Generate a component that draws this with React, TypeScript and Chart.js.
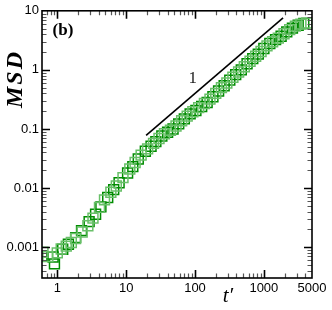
import { useEffect, useRef } from 'react';
import { Chart, registerables } from 'chart.js';

Chart.register(...registerables);

// ---- data ----
const darkT = [0.6, 0.87, 0.91, 1.2, 1.45, 1.85, 2.25, 2.9, 3.6, 4.3, 5.4, 6.6, 7.9, 10.5, 12.5, 15, 19, 23, 27, 33, 40, 48, 58, 70, 85, 103, 125, 150, 182, 220, 265, 320, 390, 470, 570, 690, 830, 1000, 1220, 1480, 1780, 2150, 2600, 3150, 3800];
const darkMSD = [0.00071, 0.00068, 0.00052, 0.00092, 0.00112, 0.00145, 0.0019, 0.0027, 0.0036, 0.0048, 0.0069, 0.0094, 0.0123, 0.018, 0.023, 0.031, 0.042, 0.051, 0.061, 0.076, 0.088, 0.1, 0.122, 0.148, 0.18, 0.205, 0.24, 0.28, 0.35, 0.44, 0.54, 0.67, 0.83, 1.0, 1.27, 1.55, 1.85, 2.3, 2.8, 3.25, 3.7, 4.4, 5.1, 5.7, 6.1];

const lightT = [0.62, 0.73, 1.0, 1.14, 1.35, 1.6, 1.84, 2.3, 2.78, 3.3, 4.1, 4.85, 6.0, 7.2, 9.0, 11.3, 13.5, 16.5, 20.5, 25, 30, 36, 44, 53, 64, 77, 93, 113, 137, 165, 200, 242, 290, 355, 430, 520, 630, 760, 910, 1110, 1340, 1620, 1960, 2370, 2870, 3450, 4200];
const lightMSD = [0.00082, 0.00069, 0.0008, 0.00093, 0.00104, 0.0012, 0.0014, 0.0018, 0.0023, 0.0031, 0.0047, 0.0063, 0.0085, 0.0108, 0.015, 0.021, 0.027, 0.036, 0.046, 0.057, 0.069, 0.083, 0.095, 0.112, 0.138, 0.165, 0.195, 0.23, 0.27, 0.32, 0.4, 0.5, 0.6, 0.75, 0.92, 1.13, 1.4, 1.7, 2.05, 2.55, 3.0, 3.45, 4.1, 4.8, 5.5, 5.95, 6.2];

const slopeT = [19.5, 1900];
const slopeMSD = [0.078, 7.6];
const slopeLabelPos = [93, 0.71];

const xTickValues = [1, 10, 100, 1000, 5000];
const yTickValues = [0.001, 0.01, 0.1, 1, 10];
const xRange = [0.606, 5000];
const yRange = [0.000316, 10];

const xTitle = 't\u2032';
const yTitle = 'MSD';
const panelLabel = '(b)';
const slopeText = '1';

const toPoints = (xs: number[], ys: number[]) => xs.map((x, i) => ({ x, y: ys[i] }));

const framePlugin = {
  id: 'frameAndText',
  afterDatasetsDraw(chart: any) {
    const { ctx, chartArea: a, scales } = chart;
    const xs = scales.x;
    const ys = scales.y;
    ctx.save();
    const drawTicks = (scale: any, horizontal: boolean) => {
      const lo = Math.floor(Math.log10(scale.min));
      const hi = Math.ceil(Math.log10(scale.max));
      for (let d = lo; d <= hi; d++) {
        for (let k = 1; k <= 9; k++) {
          const v = k * Math.pow(10, d);
          if (v <= scale.min * 1.0001 || v >= scale.max * 0.9999) continue;
          const p = Math.round(scale.getPixelForValue(v)) + 0.5;
          const major = k === 1;
          const len = major ? 8 : 4.5;
          ctx.lineWidth = major ? 1.6 : 1.2;
          ctx.strokeStyle = major ? '#000' : '#555';
          ctx.beginPath();
          if (horizontal) {
            ctx.moveTo(p, a.bottom);
            ctx.lineTo(p, a.bottom - len);
            ctx.moveTo(p, a.top);
            ctx.lineTo(p, a.top + len);
          } else {
            ctx.moveTo(a.left, p);
            ctx.lineTo(a.left + len, p);
            ctx.moveTo(a.right, p);
            ctx.lineTo(a.right - len, p);
          }
          ctx.stroke();
        }
      }
    };
    drawTicks(xs, true);
    drawTicks(ys, false);
    ctx.lineWidth = 1.6;
    ctx.strokeStyle = '#000';
    ctx.strokeRect(a.left, a.top, a.right - a.left, a.bottom - a.top);

    ctx.fillStyle = '#000';
    ctx.textAlign = 'center';
    ctx.textBaseline = 'middle';
    // panel label
    ctx.font = 'bold 17px "Liberation Serif"';
    ctx.fillText(panelLabel, 63, 31);
    // slope label
    ctx.font = '17px "Liberation Serif"';
    ctx.fillStyle = '#222';
    ctx.fillText(slopeText, xs.getPixelForValue(slopeLabelPos[0]), ys.getPixelForValue(slopeLabelPos[1]));
    ctx.fillStyle = '#000';
    // x title
    ctx.font = 'italic 21px "Liberation Serif"';
    ctx.fillText(xTitle, 228, 296);
    // y title
    ctx.save();
    ctx.translate(16, 80);
    ctx.rotate(-Math.PI / 2);
    ctx.font = 'bold italic 24px "Liberation Serif"';
    (ctx as any).letterSpacing = '2px';
    ctx.fillText(yTitle, 1, 0);
    ctx.restore();
    ctx.restore();
  },
};

export default function App() {
  const ref = useRef<HTMLCanvasElement | null>(null);
  useEffect(() => {
    if (!ref.current) return;
    const chart = new Chart(ref.current, {
      type: 'scatter',
      data: {
        datasets: [
          {
            label: 'light',
            data: toPoints(lightT, lightMSD),
            pointStyle: 'rect',
            pointRadius: 7,
            borderWidth: 1.5,
            borderColor: 'rgb(105,192,105)',
            backgroundColor: 'rgba(0,0,0,0)',
          },
          {
            label: 'dark',
            data: toPoints(darkT, darkMSD),
            pointStyle: 'rect',
            pointRadius: 7,
            borderWidth: 1.5,
            borderColor: 'rgb(0,140,0)',
            backgroundColor: 'rgba(0,0,0,0)',
          },
          {
            label: 'slope',
            type: 'line',
            data: toPoints(slopeT, slopeMSD),
            showLine: true,
            pointRadius: 0,
            borderWidth: 1.6,
            borderColor: '#000',
            backgroundColor: '#000',
          } as any,
        ],
      },
      options: {
        animation: false,
        responsive: false,
        layout: { padding: { top: 8, right: 20, left: 0, bottom: 0 } },
        plugins: { legend: { display: false }, tooltip: { enabled: false } },
        scales: {
          x: {
            type: 'logarithmic',
            min: xRange[0],
            max: xRange[1],
            grid: { display: false, drawTicks: false },
            border: { display: false },
            afterBuildTicks: (s: any) => { s.ticks = xTickValues.map((v) => ({ value: v })); },
            afterFit: (s: any) => { s.height = 32; },
            ticks: {
              padding: 3,
              maxRotation: 0,
              autoSkip: false,
              color: '#000',
              font: { family: '"Liberation Sans"', size: 13 },
              callback: (v: any) => String(v),
            },
          },
          y: {
            type: 'logarithmic',
            min: yRange[0],
            max: yRange[1],
            grid: { display: false, drawTicks: false },
            border: { display: false },
            afterBuildTicks: (s: any) => { s.ticks = yTickValues.map((v) => ({ value: v })); },
            afterFit: (s: any) => { s.width = 42; },
            ticks: {
              padding: 3,
              autoSkip: false,
              color: '#000',
              font: { family: '"Liberation Sans"', size: 13 },
              callback: (v: any) => String(v),
            },
          },
        },
      },
      plugins: [framePlugin],
    } as any);
    return () => chart.destroy();
  }, []);
  return (
    <div style={{ position: 'fixed', left: 0, top: 0, width: 332, height: 310, background: '#fff' }}>
      <canvas ref={ref} width={332} height={310} style={{ display: 'block' }} />
    </div>
  );
}
